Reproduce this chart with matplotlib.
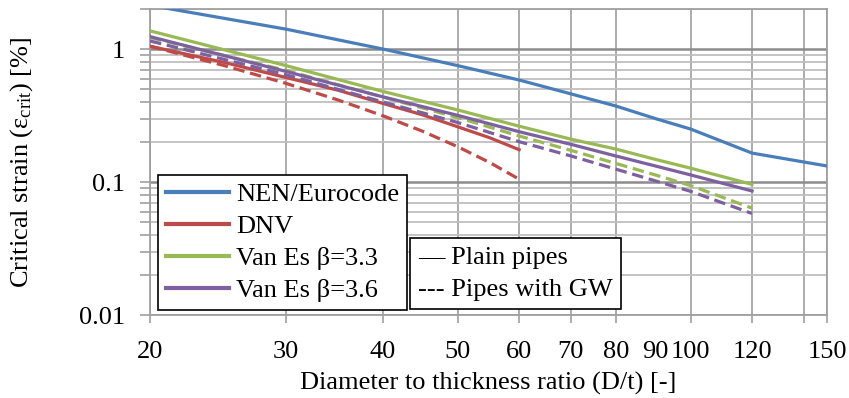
import matplotlib
matplotlib.use('Agg')
import matplotlib.pyplot as plt
from matplotlib.lines import Line2D
from matplotlib.ticker import FixedLocator, NullFormatter

plt.rcParams['font.family'] = ['Liberation Serif', 'DejaVu Serif']
plt.rcParams['mathtext.fontset'] = 'custom'
plt.rcParams['mathtext.rm'] = 'Liberation Serif'
plt.rcParams['mathtext.it'] = 'Liberation Serif:italic'

FS = 19

# D/t values and critical strain [%] per design rule
dt_nen = [20, 30, 40, 50, 60, 70, 80, 90, 100, 120, 150]
eps_nen = [2.13, 1.41, 1.0, 0.75, 0.585, 0.46, 0.373, 0.30, 0.25, 0.165, 0.132]

dt_dnv = [20, 25, 30, 35, 40, 45, 50, 55, 60]
eps_dnv = [1.05, 0.79, 0.61, 0.49, 0.39, 0.32, 0.26, 0.215, 0.175]
eps_dnv_gw = [1.05, 0.748, 0.551, 0.414, 0.315, 0.241, 0.184, 0.140, 0.105]

dt_vanes = [20, 30, 40, 50, 60, 70, 80, 90, 100, 120]
eps_b33 = [1.37, 0.75, 0.48, 0.348, 0.263, 0.21, 0.177, 0.148, 0.127, 0.096]
eps_b33_gw = [1.22, 0.69, 0.435, 0.305, 0.222, 0.173, 0.138, 0.113, 0.094, 0.0636]
eps_b36 = [1.24, 0.678, 0.437, 0.317, 0.239, 0.192, 0.157, 0.132, 0.113, 0.0856]
eps_b36_gw = [1.15, 0.64, 0.40, 0.28, 0.201, 0.157, 0.125, 0.102, 0.085, 0.058]

x_labels = [20, 30, 40, 50, 60, 70, 80, 90, 100, 120, 150]
x_grid = [20, 30, 40, 50, 60, 70, 80, 100, 120, 140, 150]

c_blue = '#4A7EBB'
c_red = '#BE4B48'
c_green = '#98B954'
c_purple = '#7D60A0'

fig = plt.figure(figsize=(8.49, 3.98), dpi=100)
ax = fig.add_axes([150 / 849, 83 / 398, 677 / 849, 306 / 398])
ax.set_xscale('log')
ax.set_yscale('log')
ax.set_xlim(20, 150)
ax.set_ylim(0.01, 2)

lw = 2.3
dash = (3.6, 1.8)
ax.plot(dt_nen, eps_nen, color=c_blue, lw=lw, zorder=5)
ax.plot(dt_dnv, eps_dnv, color=c_red, lw=lw, zorder=4)
ax.plot(dt_dnv, eps_dnv_gw, color=c_red, lw=lw, dashes=dash, zorder=4)
ax.plot(dt_vanes, eps_b33, color=c_green, lw=lw, zorder=4)
ax.plot(dt_vanes, eps_b33_gw, color=c_green, lw=lw, dashes=dash, zorder=4)
ax.plot(dt_vanes, eps_b36, color=c_purple, lw=lw, zorder=4)
ax.plot(dt_vanes, eps_b36_gw, color=c_purple, lw=lw, dashes=dash, zorder=4)

# x axis: labels on major ticks, grid + tick marks on minor ticks
ax.xaxis.remove_overlapping_locs = False
ax.xaxis.set_major_locator(FixedLocator(x_labels))
ax.set_xticklabels([str(v) for v in x_labels])
ax.xaxis.set_minor_locator(FixedLocator(x_grid))
ax.xaxis.set_minor_formatter(NullFormatter())
ax.tick_params(axis='x', which='major', length=0, pad=19, labelsize=FS)
ax.tick_params(axis='x', which='minor', length=6, width=1.2, color='#A0A0A0')
ax.grid(True, axis='x', which='minor', color='#A6A6A6', lw=1.3, zorder=1)

# y axis
y_minor = [m * d for d in (0.01, 0.1, 1) for m in range(2, 10)]
ax.yaxis.set_major_locator(FixedLocator([0.01, 0.1, 1]))
ax.set_yticklabels(['0.01', '0.1', '1'])
ax.yaxis.set_minor_locator(FixedLocator(y_minor))
ax.yaxis.set_minor_formatter(NullFormatter())
ax.tick_params(axis='y', which='both', length=7, width=1.2, color='#A0A0A0',
               pad=11, labelsize=FS)
ax.grid(True, axis='y', which='major', color='#8C8C8C', lw=1.8, zorder=1)
ax.grid(True, axis='y', which='minor', color='#BFBFBF', lw=1.3, zorder=1)
ax.set_axisbelow(True)

for s in ax.spines.values():
    s.set_color('#A0A0A0')
    s.set_linewidth(1.3)

fig.text(22 / 849, 1 - 162 / 398, 'Critical strain (ε$_{\\mathrm{crit}}$) [%]',
         rotation=90, ha='center', va='center', fontsize=FS)
fig.text(488 / 849, 1 - 383 / 398, 'Diameter to thickness ratio (D/t) [-]',
         ha='center', va='center', fontsize=FS)

handles = [Line2D([], [], color=c, lw=3) for c in (c_blue, c_red, c_green, c_purple)]
labels = ['NEN/Eurocode', 'DNV', 'Van Es β=3.3', 'Van Es β=3.6']
leg1 = ax.legend(handles, labels, loc='upper left',
                 bbox_to_anchor=(158 / 849, 1 - 175 / 398),
                 bbox_transform=fig.transFigure, fontsize=FS, frameon=True,
                 fancybox=False, framealpha=1, edgecolor='black',
                 handlelength=2.4, handletextpad=0.25, labelspacing=0.32,
                 borderpad=0.3, borderaxespad=0)
leg1.get_frame().set_linewidth(1.2)
leg1.set_zorder(10)
ax.add_artist(leg1)

blank = [Line2D([], [], visible=False), Line2D([], [], visible=False)]
leg2 = ax.legend(blank, ['— Plain pipes', '--- Pipes with GW'], loc='upper left',
                 bbox_to_anchor=(410 / 849, 1 - 238 / 398),
                 bbox_transform=fig.transFigure, fontsize=FS, frameon=True,
                 fancybox=False, framealpha=1, edgecolor='black',
                 handlelength=0, handletextpad=0, labelspacing=0.3,
                 borderpad=0.3, borderaxespad=0)
leg2.get_frame().set_linewidth(1.2)
leg2.set_zorder(10)

fig.savefig('out.png', dpi=100)
